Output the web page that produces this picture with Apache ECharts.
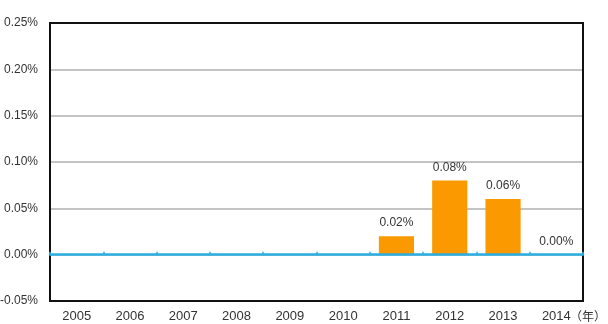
<!DOCTYPE html>
<html>
<head>
<meta charset="utf-8">
<script src="https://cdn.jsdelivr.net/npm/echarts@6/dist/echarts.min.js"></script>
<style>
html,body{margin:0;padding:0;background:#fff;}
#chart{width:608px;height:324px;}
</style>
</head>
<body>
<div id="chart"></div>
<script>
var categories = ['2005','2006','2007','2008','2009','2010','2011','2012','2013','2014'];
var values = [null, null, null, null, null, null, 0.02, 0.08, 0.06, 0.00];
var yTicks = { min: -0.05, max: 0.25, interval: 0.05 };
var unitLabel = '（年）';

var chart = echarts.init(document.getElementById('chart'), null, {renderer: 'canvas'});
var font = '"Liberation Sans", Arial, sans-serif';
chart.setOption({
  animation: false,
  backgroundColor: '#fff',
  grid: {
    left: 50, right: 25, top: 23, bottom: 23, z: 1,
    containLabel: false, outerBoundsMode: 'none',
    show: true, borderColor: '#111', borderWidth: 2, backgroundColor: 'transparent'
  },
  xAxis: [{
    type: 'category',
    position: 'bottom',
    data: categories,
    axisLine: { show: false, onZero: false },
    axisTick: { show: false },
    splitLine: { show: false },
    axisLabel: { color: '#333', fontSize: 13, fontFamily: font, margin: 9 }
  }, {
    type: 'category',
    position: 'top',
    data: categories,
    z: 5,
    axisLine: { show: true, onZero: true, lineStyle: { color: '#2aaee2', width: 2.5 } },
    axisTick: { show: true, inside: false, length: 3, lineStyle: { color: '#2aaee2', width: 1.5 } },
    axisLabel: { show: false },
    splitLine: { show: false }
  }],
  yAxis: {
    type: 'value',
    z: 0,
    min: yTicks.min, max: yTicks.max, interval: yTicks.interval,
    axisLine: { show: false },
    axisTick: { show: false },
    splitLine: { show: true, lineStyle: { color: '#c4c4c4', width: 2 } },
    axisLabel: {
      color: '#333', fontSize: 12, fontFamily: font, margin: 12,
      formatter: function (v) { return v.toFixed(2) + '%'; }
    }
  },
  series: [{
    type: 'bar',
    xAxisIndex: 0,
    data: values,
    barWidth: '66%',
    itemStyle: { color: '#fa9a00' },
    label: {
      show: true, position: 'top', distance: 7,
      color: '#333', fontSize: 12, fontFamily: font,
      formatter: function (p) { return p.value == null ? '' : p.value.toFixed(2) + '%'; }
    }
  }],
  graphic: [{
    type: 'text',
    x: 570, y: 316,
    style: { text: unitLabel, fill: '#333', font: '12px "Noto Sans CJK JP", sans-serif', verticalAlign: 'middle' }
  }]
});
</script>
</body>
</html>
